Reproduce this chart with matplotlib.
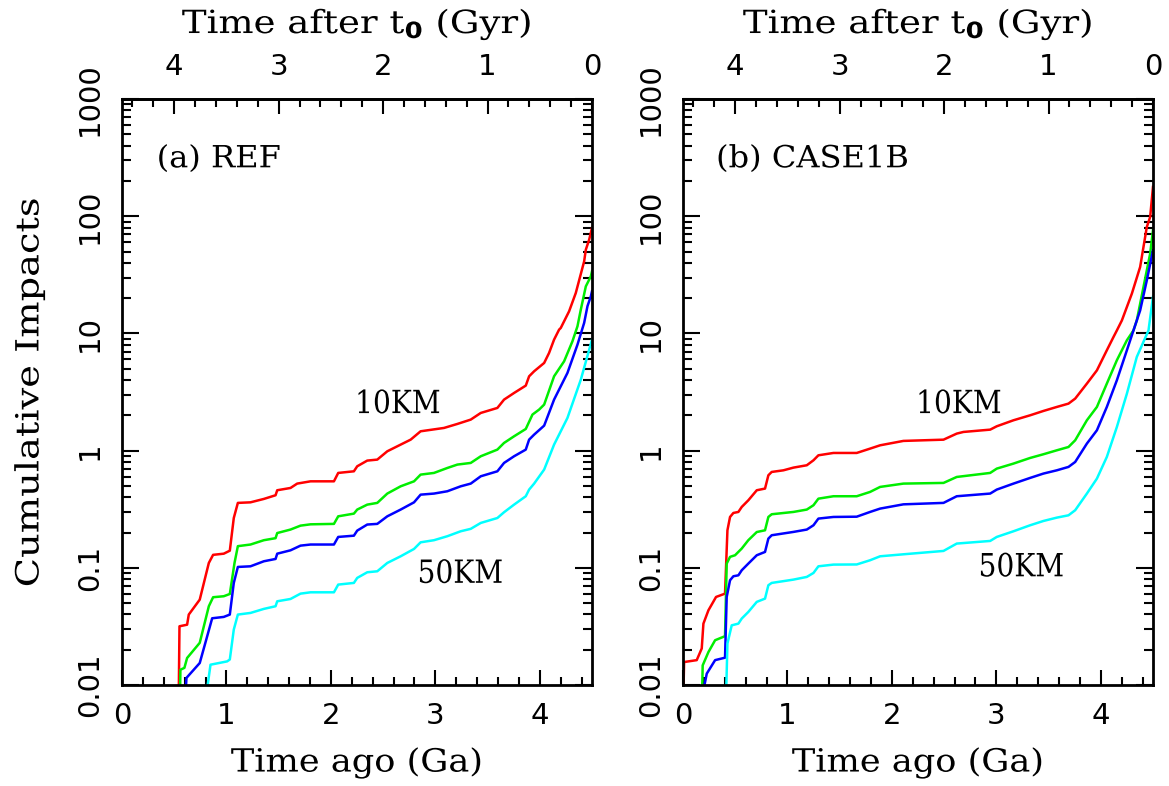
import matplotlib
matplotlib.use("Agg")
import matplotlib.pyplot as plt
from matplotlib.patheffects import AbstractPathEffect
from matplotlib.ticker import FixedLocator, FixedFormatter, MultipleLocator, LogLocator, NullFormatter
from matplotlib.transforms import Affine2D

# Data (time ago in Ga, cumulative impacts)
ref_10km_t = [0.543, 0.55, 0.623, 0.639, 0.744, 0.831, 0.872, 0.974, 1.032, 1.070, 1.109, 1.230, 1.358,
              1.470, 1.486, 1.613, 1.677, 1.805, 2.029, 2.070, 2.220, 2.252, 2.348, 2.444, 2.540, 2.636,
              2.764, 2.859, 3.083, 3.211, 3.339, 3.435, 3.594, 3.658, 3.754, 3.866, 3.898, 3.946, 4.042,
              4.089, 4.137, 4.185, 4.201, 4.281, 4.345, 4.425, 4.441, 4.473, 4.5]
ref_10km_n = [0.008, 0.0317, 0.0327, 0.0399, 0.0535, 0.110, 0.129, 0.132, 0.140, 0.266, 0.358, 0.362, 0.387,
              0.416, 0.459, 0.480, 0.523, 0.547, 0.547, 0.645, 0.666, 0.735, 0.822, 0.838, 0.987, 1.089,
              1.241, 1.462, 1.561, 1.689, 1.839, 2.096, 2.313, 2.724, 3.104, 3.587, 4.306, 4.753, 5.597,
              6.81, 8.85, 10.77, 11.13, 15.45, 22.15, 41.2, 51.8, 63.1, 79.4]

ref_20km_t = [0.555, 0.559, 0.597, 0.623, 0.744, 0.831, 0.872, 0.974, 1.032, 1.077, 1.109, 1.230, 1.358,
              1.470, 1.486, 1.613, 1.709, 1.805, 2.029, 2.070, 2.220, 2.252, 2.348, 2.444, 2.540, 2.668,
              2.796, 2.859, 2.987, 3.115, 3.211, 3.339, 3.435, 3.594, 3.658, 3.754, 3.866, 3.930, 3.994,
              4.042, 4.137, 4.233, 4.313, 4.361, 4.393, 4.441, 4.489, 4.5]
ref_20km_n = [0.008, 0.0135, 0.014, 0.017, 0.0229, 0.047, 0.0561, 0.0572, 0.0598, 0.110, 0.153, 0.158, 0.172,
              0.179, 0.198, 0.212, 0.229, 0.235, 0.237, 0.275, 0.290, 0.314, 0.346, 0.358, 0.430, 0.496,
              0.547, 0.624, 0.645, 0.711, 0.760, 0.785, 0.895, 1.02, 1.163, 1.325, 1.53, 2.03, 2.24,
              2.47, 4.306, 5.78, 8.57, 11.5, 15.96, 25.2, 30.7, 33.9]

ref_30km_t = [0.610, 0.617, 0.744, 0.815, 0.863, 0.974, 1.032, 1.070, 1.109, 1.230, 1.358, 1.470, 1.486,
              1.613, 1.709, 1.805, 2.029, 2.070, 2.220, 2.252, 2.348, 2.444, 2.540, 2.668, 2.796, 2.859,
              2.987, 3.115, 3.243, 3.339, 3.435, 3.594, 3.658, 3.754, 3.866, 3.898, 3.946, 4.042, 4.137,
              4.265, 4.361, 4.425, 4.457, 4.489, 4.5]
ref_30km_n = [0.009, 0.0115, 0.0154, 0.026, 0.0371, 0.0381, 0.0399, 0.0743, 0.1017, 0.103, 0.1137, 0.119, 0.132,
              0.141, 0.1546, 0.158, 0.158, 0.1834, 0.188, 0.2077, 0.234, 0.237, 0.275, 0.314, 0.362, 0.421,
              0.430, 0.450, 0.496, 0.523, 0.604, 0.666, 0.785, 0.895, 1.02, 1.241, 1.369, 1.634, 2.724,
              4.6, 8.02, 12.3, 17.1, 20.7, 22.9]

ref_50km_t = [0.805, 0.847, 1.006, 1.032, 1.070, 1.109, 1.230, 1.358, 1.470, 1.486, 1.613, 1.709, 1.805,
              2.029, 2.070, 2.220, 2.252, 2.348, 2.444, 2.540, 2.668, 2.796, 2.859, 2.987, 3.115, 3.243,
              3.339, 3.435, 3.594, 3.658, 3.754, 3.866, 3.898, 3.946, 4.042, 4.137, 4.265, 4.393, 4.5]
ref_50km_n = [0.008, 0.0149, 0.0159, 0.0165, 0.0297, 0.0399, 0.0412, 0.0446, 0.047, 0.0518, 0.0542, 0.0602,
              0.0618, 0.0618, 0.0719, 0.0743, 0.082, 0.0916, 0.0934, 0.110, 0.1254, 0.1449, 0.165, 0.172,
              0.186, 0.205, 0.215, 0.2415, 0.266, 0.298, 0.346, 0.408, 0.465, 0.523, 0.689, 1.125, 1.9,
              4.03, 8.85]

case_10km_t = [0.003, 0.010, 0.131, 0.179, 0.195, 0.243, 0.316, 0.402, 0.425, 0.450, 0.482, 0.530, 0.562,
               0.625, 0.706, 0.785, 0.817, 0.849, 0.961, 1.057, 1.185, 1.249, 1.296, 1.440, 1.663, 1.791,
               1.887, 2.110, 2.494, 2.621, 2.685, 2.941, 3.004, 3.164, 3.324, 3.451, 3.579, 3.691, 3.755,
               3.867, 3.963, 4.058, 4.122, 4.154, 4.202, 4.298, 4.377, 4.441, 4.473, 4.5]
case_10km_n = [0.008, 0.0157, 0.0163, 0.0205, 0.0334, 0.0434, 0.0564, 0.0602, 0.209, 0.2716, 0.2938, 0.2997,
               0.3306, 0.3767, 0.459, 0.4743, 0.616, 0.6577, 0.679, 0.716, 0.75, 0.827, 0.912, 0.955, 0.955,
               1.04, 1.11, 1.21, 1.24, 1.397, 1.443, 1.51, 1.613, 1.815, 2.002, 2.18, 2.358, 2.518, 2.778,
               3.73, 4.84, 7.18, 9.33, 10.6, 12.9, 21.9, 36.9, 81.0, 98.6, 178.0]

case_20km_t = [0.182, 0.188, 0.243, 0.307, 0.402, 0.418, 0.450, 0.498, 0.562, 0.625, 0.706, 0.785, 0.817,
               0.849, 1.057, 1.185, 1.249, 1.296, 1.440, 1.663, 1.791, 1.887, 2.110, 2.494, 2.621, 2.941,
               3.004, 3.164, 3.324, 3.451, 3.579, 3.691, 3.755, 3.867, 3.963, 4.058, 4.154, 4.250, 4.313,
               4.345, 4.409, 4.473, 4.5]
case_20km_n = [0.008, 0.0147, 0.0191, 0.0241, 0.0261, 0.1086, 0.124, 0.128, 0.146, 0.172, 0.202, 0.209, 0.2716,
               0.2864, 0.2997, 0.314, 0.342, 0.389, 0.408, 0.408, 0.444, 0.49, 0.523, 0.53, 0.596, 0.645,
               0.702, 0.775, 0.866, 0.931, 1.006, 1.074, 1.225, 1.815, 2.358, 3.73, 5.9, 8.74, 10.6,
               12.9, 24.9, 48.0, 76.0]

case_30km_t = [0.195, 0.227, 0.307, 0.402, 0.418, 0.450, 0.482, 0.530, 0.562, 0.625, 0.706, 0.785, 0.817,
               0.849, 1.057, 1.185, 1.249, 1.296, 1.440, 1.663, 1.791, 1.887, 2.110, 2.494, 2.621, 2.941,
               3.004, 3.164, 3.324, 3.451, 3.579, 3.691, 3.755, 3.867, 3.963, 4.058, 4.154, 4.250, 4.313,
               4.377, 4.441, 4.5]
case_30km_n = [0.009, 0.0125, 0.0163, 0.0171, 0.0564, 0.0783, 0.0847, 0.0863, 0.0953, 0.1086, 0.128, 0.1366,
               0.1775, 0.1896, 0.2024, 0.212, 0.2307, 0.263, 0.2716, 0.273, 0.2997, 0.32, 0.348, 0.358, 0.408,
               0.43, 0.465, 0.523, 0.585, 0.637, 0.679, 0.726, 0.8, 1.148, 1.491, 2.358, 3.98, 7.18, 10.6,
               15.7, 28.4, 51.2]

case_50km_t = [0.412, 0.425, 0.466, 0.530, 0.562, 0.625, 0.706, 0.785, 0.817, 0.849, 1.057, 1.185, 1.249,
               1.296, 1.440, 1.663, 1.791, 1.887, 2.110, 2.494, 2.621, 2.941, 3.004, 3.164, 3.324, 3.451,
               3.579, 3.691, 3.755, 3.867, 3.963, 4.058, 4.154, 4.250, 4.345, 4.457, 4.5]
case_50km_n = [0.008, 0.0226, 0.0323, 0.0334, 0.0369, 0.042, 0.0512, 0.0546, 0.071, 0.0743, 0.0793, 0.0836,
               0.0904, 0.103, 0.1065, 0.1068, 0.116, 0.1254, 0.1304, 0.1393, 0.161, 0.1695, 0.1834, 0.205,
               0.2307, 0.251, 0.268, 0.2806, 0.31, 0.43, 0.577, 0.883, 1.59, 3.06, 6.3, 10.6, 20.5]

panel_titles = ["(a) REF", "(b) CASE1B"]
size_labels = ["10KM", "50KM"]
ytick_vals = [0.01, 0.1, 1, 10, 100, 1000]
ytick_labels = ["0.01", "0.1", "1", "10", "100", "1000"]
xtick_vals = [0, 1, 2, 3, 4]
top_tick_vals = [4, 3, 2, 1, 0]
t_now = 4.5

colors = ["#ff0000", "#00ee00", "#0000ff", "#00ffff"]

panels = [
    [(ref_10km_t, ref_10km_n), (ref_20km_t, ref_20km_n), (ref_30km_t, ref_30km_n), (ref_50km_t, ref_50km_n)],
    [(case_10km_t, case_10km_n), (case_20km_t, case_20km_n), (case_30km_t, case_30km_n), (case_50km_t, case_50km_n)],
]

# Plotting constants
SERIF = "DejaVu Serif"
TICK_FONT = "DejaVu Sans"
TICK_FONTSIZE = 21
AXISLABEL_FONTSIZE = 23
TEXT_SIZE = 22
KM_SIZE = 23


class Widen(AbstractPathEffect):
    """ Stretch a text horizontally about its centre (the PGPLOT font is wide).
    """

    def __init__(self, sx):
        super().__init__()
        self.sx = sx

    def draw_path(self, renderer, gc, tpath, affine, rgbFace=None):
        ext = tpath.get_extents()
        cx = 0.5 * (ext.x0 + ext.x1)
        stretch = Affine2D().translate(-cx, 0).scale(self.sx, 1).translate(cx, 0)
        renderer.draw_path(gc, tpath, stretch + affine, rgbFace)


fig = plt.figure(figsize=(11.69, 7.86), dpi=100)
lefts = [0.1044, 0.5843]

for k, series in enumerate(panels):
    ax = fig.add_axes([lefts[k], 0.1285, 0.402, 0.7455])

    for (t, n), c in zip(series, colors):
        ax.plot(t, n, color=c, lw=1.8)

    ax.set_yscale("log")
    ax.set_xlim(0, t_now)
    ax.set_ylim(0.01, 1000)

    # ticks, PGPLOT style: inside, all four sides
    ax.xaxis.set_major_locator(FixedLocator(xtick_vals))
    ax.xaxis.set_minor_locator(MultipleLocator(0.2))
    ax.yaxis.set_major_locator(FixedLocator(ytick_vals))
    ax.yaxis.set_major_formatter(FixedFormatter(ytick_labels))
    ax.yaxis.set_minor_locator(LogLocator(base=10, subs=range(2, 10), numticks=20))
    ax.yaxis.set_minor_formatter(NullFormatter())
    ax.tick_params(which="both", direction="in", width=1.5, right=True)
    ax.tick_params(axis="x", which="major", length=11, pad=12, labelsize=TICK_FONTSIZE)
    ax.tick_params(axis="x", which="minor", length=6)
    ax.tick_params(axis="y", which="major", length=12, pad=13, labelsize=TICK_FONTSIZE)
    ax.tick_params(axis="y", which="minor", length=6.5)
    for lab in ax.get_yticklabels():
        lab.set_rotation(90)
        lab.set_va("center")
        lab.set_fontfamily(TICK_FONT)
    for lab in ax.get_xticklabels():
        lab.set_fontfamily(TICK_FONT)
    for sp in ax.spines.values():
        sp.set_linewidth(2)

    # top axis: time after t0
    secax = ax.secondary_xaxis("top", functions=(lambda x: t_now - x, lambda x: t_now - x))
    secax.xaxis.set_major_locator(FixedLocator(top_tick_vals))
    secax.xaxis.set_minor_locator(MultipleLocator(0.2))
    secax.tick_params(which="both", direction="in", width=1.5)
    secax.tick_params(which="major", length=11, pad=13, labelsize=TICK_FONTSIZE)
    secax.tick_params(which="minor", length=6)
    for lab in secax.get_xticklabels():
        lab.set_fontfamily(TICK_FONT)
    secax.spines["top"].set_linewidth(2)

    # axis titles
    ax.text(0.5, 1.128, "Time after t$_\\mathbf{0}$ (Gyr)", transform=ax.transAxes, ha="center", va="center",
            fontsize=AXISLABEL_FONTSIZE, family=SERIF, path_effects=[Widen(1.16)])
    ax.set_xlabel("Time ago (Ga)", fontsize=AXISLABEL_FONTSIZE, family=SERIF, va="center",
                  path_effects=[Widen(1.1)])
    ax.xaxis.set_label_coords(0.5, -0.133)
    if k == 0:
        ax.set_ylabel("Cumulative Impacts", fontsize=AXISLABEL_FONTSIZE, family=SERIF, va="center",
                      path_effects=[Widen(1.2)])
        ax.yaxis.set_label_coords(-0.196, 0.5)

    # panel annotations
    ax.text(0.08, 0.898, panel_titles[k], transform=ax.transAxes, fontsize=TEXT_SIZE,
            family=SERIF, ha="left", va="center", path_effects=[Widen(1.05)])
    ax.text(2.64, 2.47, size_labels[0], fontsize=KM_SIZE, family=SERIF, ha="center", va="center",
            path_effects=[Widen(0.88)])
    ax.text(3.24, 0.088 if k == 0 else 0.1, size_labels[1], fontsize=KM_SIZE, family=SERIF,
            ha="center", va="center", path_effects=[Widen(0.88)])

plt.rcParams["mathtext.default"] = "regular"
fig.savefig("out.png", dpi=100)
